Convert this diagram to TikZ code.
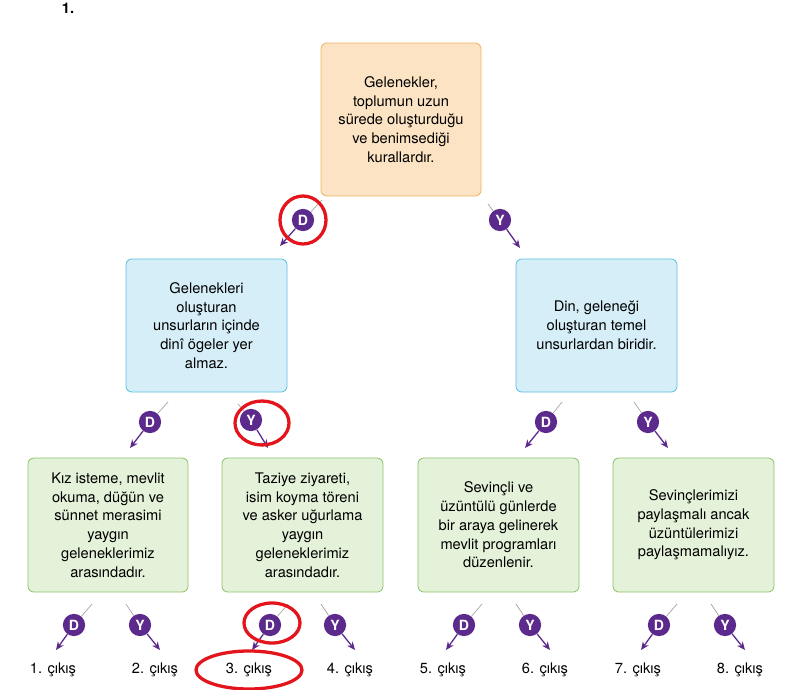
\documentclass[tikz,border=0pt]{standalone}
\usepackage{fontspec}
\setmainfont{TeX Gyre Heros}
\usetikzlibrary{arrows.meta}
\definecolor{mor}{HTML}{5B2A8C}
\definecolor{turuncu}{HTML}{FCE3C4}
\definecolor{turuncuk}{HTML}{F0B25F}
\definecolor{mavi}{HTML}{D6EEF8}
\definecolor{mavik}{HTML}{5BC0E0}
\definecolor{yesil}{HTML}{E5F2DA}
\definecolor{yesilk}{HTML}{8CC46C}
\definecolor{kirmizi}{HTML}{E3141B}
\tikzset{
    kutu/.style={rounded corners=5pt, line width=0.7pt, align=center, inner sep=0pt,
        font=\fontsize{12.5}{16}\selectfont},
    isaret/.style={circle, fill=mor, text=white, inner sep=0pt, minimum size=19pt,
        font=\bfseries\fontsize{12}{12}\selectfont},
    ok/.style={mor, line width=1.1pt, -{Stealth[length=7pt,width=6pt]}},
    ince/.style={gray!70, line width=0.6pt},
    cikis/.style={font=\fontsize{12.5}{14}\selectfont},
    halka/.style={draw=kirmizi, line width=2.8pt}
}
\begin{document}
\begin{tikzpicture}[x=0.03cm,y=-0.03cm]
    \useasboundingbox (0,0) rectangle (810,689);
    \node[font=\bfseries\fontsize{12.5}{13}\selectfont] (baslik) at (68,8) {1.};

    % kutular
    \node[kutu, fill=turuncu, draw=turuncuk, minimum width=160*0.03cm, minimum height=153*0.03cm]
        (ust) at (401,119.5) {Gelenekler,\\toplumun uzun\\sürede oluşturduğu\\ve benimsediği\\kurallardır.};
    \node[kutu, fill=mavi, draw=mavik, minimum width=161*0.03cm, minimum height=133*0.03cm]
        (sol) at (206.5,325.5) {Gelenekleri\\oluşturan\\unsurların içinde\\dinî ögeler yer\\almaz.};
    \node[kutu, fill=mavi, draw=mavik, minimum width=161*0.03cm, minimum height=133*0.03cm]
        (sag) at (596.5,325.5) {Din, geleneği\\oluşturan temel\\unsurlardan biridir.};
    \node[kutu, fill=yesil, draw=yesilk, minimum width=160*0.03cm, minimum height=134*0.03cm]
        (k1) at (108,525) {Kız isteme, mevlit\\okuma, düğün ve\\sünnet merasimi\\yaygın\\geleneklerimiz\\arasındadır.};
    \node[kutu, fill=yesil, draw=yesilk, minimum width=161*0.03cm, minimum height=134*0.03cm]
        (k2) at (302.5,525) {Taziye ziyareti,\\isim koyma töreni\\ve asker uğurlama\\yaygın\\geleneklerimiz\\arasındadır.};
    \node[kutu, fill=yesil, draw=yesilk, minimum width=161*0.03cm, minimum height=134*0.03cm]
        (k3) at (498.5,525) {Sevinçli ve\\üzüntülü günlerde\\bir araya gelinerek\\mevlit programları\\düzenlenir.};
    \node[kutu, fill=yesil, draw=yesilk, minimum width=161*0.03cm, minimum height=134*0.03cm]
        (k4) at (693.5,525) {Sevinçlerimizi\\paylaşmalı ancak\\üzüntülerimizi\\paylaşmamalıyız.};

    % ust ve orta isaretler
    \foreach \ad/\harf/\x/\y/\bx/\by/\sx/\sy in {
        ud/D/303/220/322/200/280/246, uy/Y/500/220/488/204/520/248,
        sd/D/150/422/168/402/130/448, sy/Y/251/420/238/404/268/448,
        rd/D/546/422/562/402/525/448, ry/Y/648/422/634/402/668/448} {
        \coordinate (\ad b) at (\bx,\by);
        \coordinate (\ad s) at (\sx,\sy);
        \node[isaret] (\ad) at (\x,\y) {\harf};
        \draw[ince] (\ad b) -- (\ad);
        \draw[ok] (\ad) -- (\ad s);
    }

    % alt isaretler ve cikislar
    \foreach \i/\x in {1/74, 2/140, 3/270, 4/335, 5/464, 6/530, 7/659, 8/725} {
        \pgfmathtruncatemacro{\tek}{mod(\i,2)}
        \ifnum\tek=1
            \coordinate (a\i b) at (\x+18,604);
            \coordinate (a\i s) at (\x-18,650);
            \node[isaret] (a\i) at (\x,625) {D};
            \node[cikis] (c\i) at (\x-21,670) {\i. çıkış};
        \else
            \coordinate (a\i b) at (\x-14,604);
            \coordinate (a\i s) at (\x+20,650);
            \node[isaret] (a\i) at (\x,625) {Y};
            \node[cikis] (c\i) at (\x+15,670) {\i. çıkış};
        \fi
        \draw[ince] (a\i b) -- (a\i);
        \draw[ok] (a\i) -- (a\i s);
    }

    % kirmizi halkalar
    \draw[halka] (ud) ellipse [x radius=23, y radius=24];
    \draw[halka] (262,423) ellipse [x radius=27, y radius=22];
    \draw[halka] (272,623) ellipse [x radius=28, y radius=20];
    \draw[halka] (c3) ellipse [x radius=53, y radius=19];
\end{tikzpicture}
\end{document}
